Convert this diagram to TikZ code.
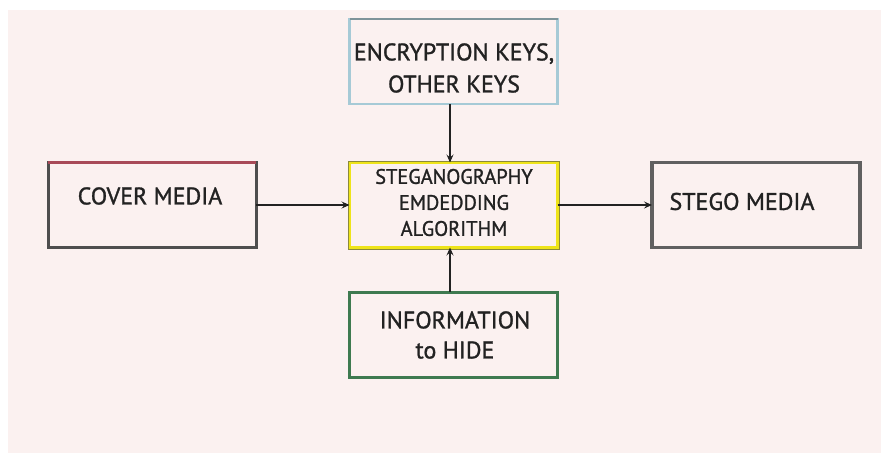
\documentclass[tikz,border=0pt]{standalone}
\usepackage{fontspec}
\setmainfont{PT Sans}[FakeBold=1.2]
\usetikzlibrary{arrows.meta}
\definecolor{bgpink}{HTML}{FBF1F0}
\definecolor{boxgray}{HTML}{4E4E4E}
\definecolor{covertop}{HTML}{A84A58}
\definecolor{keyblue}{HTML}{A6CAD6}
\definecolor{keytop}{HTML}{7E949A}
\definecolor{infogreen}{HTML}{3E7A50}
\definecolor{algyellow}{HTML}{EEE41A}
\definecolor{algedge}{HTML}{8C8A3A}
\definecolor{txt}{HTML}{222222}
\tikzset{
  box/.style={draw, fill=bgpink, minimum width=208pt, minimum height=85pt, inner sep=0pt, outer sep=0pt},
  lbl/.style={text=txt, font=\fontsize{24}{30}\selectfont, align=center, inner sep=0pt},
  conn/.style={draw=txt, line width=1.1pt, -{Stealth[length=8pt,width=7pt,inset=3pt]}}
}
\begin{document}
\begin{tikzpicture}[x=1pt,y=-1pt]
\useasboundingbox (0,0) rectangle (881,453);
\fill[white] (0,0) rectangle (881,453);
\fill[bgpink] (8,10) rectangle (881,453);
% boxes
\node[box, draw=keyblue, line width=2.6pt] (keys) at (453.5,61.5) {};
\draw[keytop, line width=2.6pt] (keys.north west) -- (keys.north east);
\node[box, draw=boxgray, line width=3pt] (cover) at (152,205) {};
\draw[covertop, line width=3pt] (cover.north west) -- (cover.north east);
\node[box, draw=algyellow, line width=3pt] (alg) at (453.5,205) {};
\draw[algedge, line width=0.6pt] ([shift={(-1.5,-1.5)}]alg.north west) rectangle ([shift={(1.5,1.5)}]alg.south east);
\node[box, draw=boxgray!90, line width=3.5pt] (stego) at (756,205) {};
\node[box, draw=infogreen, line width=3pt] (info) at (453.5,334.5) {};
% labels
\node[lbl, font=\fontsize{24}{32}\selectfont] (keystxt) at (454,68) {ENCRYPTION KEYS,\\OTHER KEYS};
\node[lbl] (covertxt) at (150,196) {COVER MEDIA};
\node[lbl, font=\addfontfeature{FakeStretch=0.97}\fontsize{21}{26}\selectfont] (algtxt) at (454,202.5) {STEGANOGRAPHY\\EMDEDDING\\ALGORITHM};
\node[lbl] (stegotxt) at (742,201.5) {STEGO MEDIA};
\node[lbl] (infotxt) at (455,335) {INFORMATION\\to HIDE};
% connectors
\draw[conn] ([xshift=-3.5pt]keys.south) -- ([xshift=-3.5pt]alg.north);
\draw[conn] (info.north -| 450,0) -- (alg.south -| 450,0);
\draw[conn] (cover.east) -- (alg.west);
\draw[conn] (alg.east) -- (stego.west);
\end{tikzpicture}
\end{document}
